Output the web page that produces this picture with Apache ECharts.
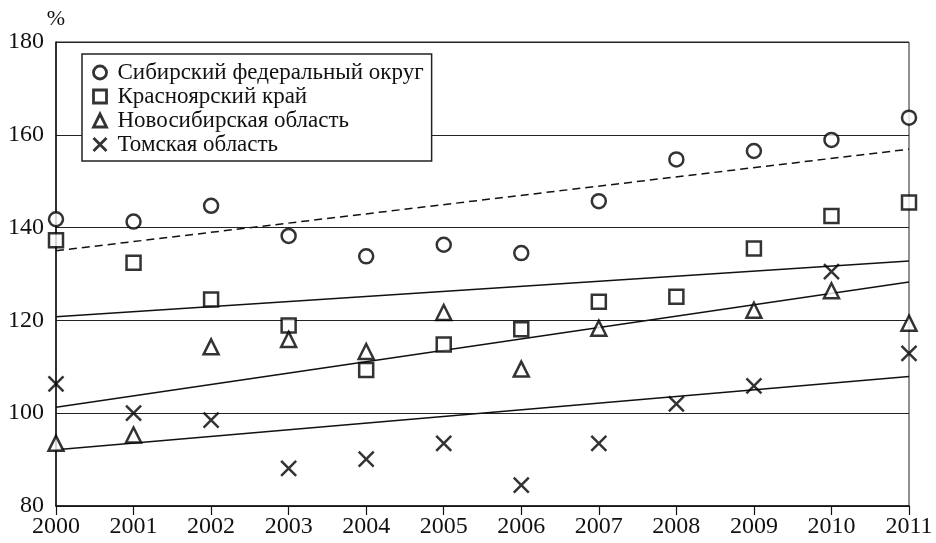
<!DOCTYPE html>
<html>
<head>
<meta charset="utf-8">
<script src="https://cdn.jsdelivr.net/npm/echarts@6/dist/echarts.min.js"></script>
<style>html,body{margin:0;padding:0;background:#fff}#c{width:936px;height:543px}</style>
</head>
<body>
<div id="c"></div>
<script>
const years = [2000,2001,2002,2003,2004,2005,2006,2007,2008,2009,2010,2011];
const names = ['Сибирский федеральный округ','Красноярский край','Новосибирская область','Томская область'];
const sfo = [141.8,141.3,144.7,138.2,133.8,136.3,134.5,145.7,154.7,156.5,158.9,163.7];
const krasnoyarsk = [137.3,132.4,124.5,118.9,109.3,114.8,118.1,124.0,125.1,135.5,142.5,145.4];
const novosibirsk = [93.5,95.3,114.3,115.9,113.3,121.7,109.5,118.3,null,122.2,126.4,119.4];
const tomsk = [106.3,100.0,98.5,88.1,90.1,93.5,84.5,93.5,102.0,105.9,130.5,112.9];
// trend lines: value at 2000 and at 2011
const trendYears = [2000, 2011];
const trendSfo = [135.0, 156.9];
const trendKras = [120.8, 132.8];
const trendNovo = [101.3, 128.3];
const trendTomsk = [92.1, 107.9];
const yTicks = [80,100,120,140,160,180];

const FONT = 'Liberation Serif';
const pair = (xs, ys) => xs.map((x,i)=>[x, ys[i]]);
const X_PATH = 'path://M0,0L10,10M10,0L0,10';

function scatter(name, data, symbol, size){
  const isX = symbol===X_PATH;
  return {
    name, type:'scatter', data: pair(years, data).filter(p=>p[1]!=null),
    symbol, symbolSize:size, z:5,
    itemStyle: isX ? {color:'none', borderColor:'#000', borderWidth:2.5}
                   : {color:'#fff', borderColor:'#000', borderWidth:2.5}
  };
}
function trend(data, dashed){
  return {
    type:'line', data: pair(trendYears, data), symbol:'none', silent:true, z:3,
    lineStyle:{color:'#111', width:1.5, type: dashed ? [8,5] : 'solid'}
  };
}

const chart = echarts.init(document.getElementById('c'));
chart.setOption({
  animation:false,
  backgroundColor:'#fff',
  grid:{left:56, right:27, top:42, bottom:37, show:true, borderColor:'#222', borderWidth:1},
  legend:{
    data: names, orient:'vertical', left:82, top:54,
    padding:[7,8,5,9], itemGap:1, itemWidth:13, itemHeight:13,
    itemStyle:{borderWidth:2.8, borderColor:'#000'},
    backgroundColor:'#fff', borderColor:'#222', borderWidth:1.5,
    textStyle:{fontFamily:FONT, fontSize:23, color:'#111', lineHeight:23, padding:[0,0,0,6]}
  },
  xAxis:{
    type:'value', min:2000, max:2011, interval:1,
    axisLine:{show:true, lineStyle:{color:'#111', width:1.5}},
    axisTick:{show:true, length:9, lineStyle:{color:'#111', width:1.2}},
    axisLabel:{fontFamily:FONT, fontSize:24, color:'#111', margin:9, formatter: v => String(v)},
    splitLine:{show:false}
  },
  yAxis:{
    type:'value', min:80, max:180, interval:20,
    name:'%', nameLocation:'end', nameGap:5,
    nameTextStyle:{fontFamily:FONT, fontSize:22, color:'#111', align:'center'},
    axisLine:{show:true, lineStyle:{color:'#111', width:1.5}},
    axisTick:{show:false},
    axisLabel:{fontFamily:FONT, fontSize:24, color:'#111', margin:12,
      formatter: v => yTicks.includes(v) ? String(v) : ''},
    splitLine:{show:true, lineStyle:{color:'#222', width:1.2}}
  },
  series:[
    trend(trendSfo, true),
    trend(trendKras, false),
    trend(trendNovo, false),
    trend(trendTomsk, false),
    scatter(names[0], sfo, 'circle', 14),
    scatter(names[1], krasnoyarsk, 'rect', 14),
    scatter(names[2], novosibirsk, 'triangle', 15),
    scatter(names[3], tomsk, X_PATH, 15)
  ]
});
</script>
</body>
</html>
